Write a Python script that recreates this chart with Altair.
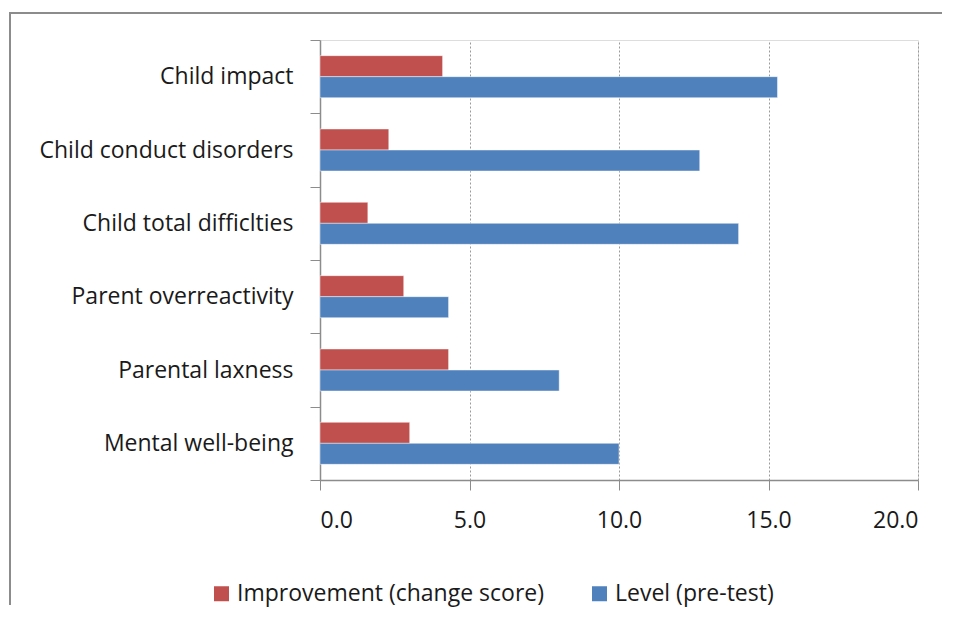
import altair as alt
import pandas as pd

categories = [
    "Child impact",
    "Child conduct disorders",
    "Child total difficlties",
    "Parent overreactivity",
    "Parental laxness",
    "Mental well-being",
]
improvement = [4.1, 2.3, 1.6, 2.8, 4.3, 3.0]
level = [15.3, 12.7, 14.0, 4.3, 8.0, 10.0]
series_names = ["Improvement (change score)", "Level (pre-test)"]
series_colors = ["#C0504D", "#4F81BD"]
x_ticks = [0, 5, 10, 15, 20]

rows = []
for c, a, b in zip(categories, improvement, level):
    rows.append({"category": c, "series": series_names[0], "value": a})
    rows.append({"category": c, "series": series_names[1], "value": b})
df = pd.DataFrame(rows)

FONT = "Open Sans"
FS = 23

bars = alt.Chart(df).mark_bar(
    size=21, stroke="white", strokeOpacity=0.45, strokeWidth=1
).encode(
    y=alt.Y(
        "category:N",
        sort=categories,
        scale=alt.Scale(paddingInner=0, paddingOuter=0),
        axis=alt.Axis(
            title=None,
            tickBand="extent",
            tickSize=10,
            tickColor="#8c8c8c",
            domainColor="#8c8c8c",
            domainWidth=1.5,
            labelFontSize=FS,
            labelFont=FONT,
            labelColor="#1a1a1a",
            labelPadding=17,
            labelLimit=0,
            grid=False,
        ),
    ),
    yOffset=alt.YOffset(
        "series:N",
        sort=series_names,
        scale=alt.Scale(paddingInner=0, paddingOuter=0.745),
    ),
    x=alt.X(
        "value:Q",
        scale=alt.Scale(domain=[0, 20], nice=False),
        axis=alt.Axis(
            title=None,
            values=x_ticks,
            format=".1f",
            tickSize=10,
            tickColor="#8c8c8c",
            domainColor="#8c8c8c",
            domainWidth=1.5,
            grid=True,
            gridColor="#9a9a9a",
            gridDash=[2, 2],
            labelFontSize=FS,
            labelFont=FONT,
            labelColor="#1a1a1a",
            labelPadding=19,
        ),
    ),
    color=alt.Color(
        "series:N",
        sort=series_names,
        scale=alt.Scale(domain=series_names, range=series_colors),
        legend=alt.Legend(
            title=None,
            orient="none",
            direction="horizontal",
            legendX=-110,
            legendY=542,
            symbolType="square",
            symbolSize=225,
            symbolStrokeWidth=0,
            labelFontSize=FS,
            labelFont=FONT,
            labelColor="#1a1a1a",
            labelOffset=4,
            labelLimit=0,
            columnPadding=44,
        ),
    ),
)

frame_data = alt.Data(values=[{}])
frame_left = alt.Chart(frame_data).mark_rule(color="#8c8c8c", strokeWidth=2).encode(
    x=alt.value(-310),
    y=alt.value(-28),
    y2=alt.value(565),
)
frame_top = alt.Chart(frame_data).mark_rule(color="#8c8c8c", strokeWidth=2).encode(
    x=alt.value(-311),
    x2=alt.value(622),
    y=alt.value(-27),
)

chart = alt.layer(frame_left, frame_top, bars).properties(
    width=598,
    height=440,
    autosize=alt.AutoSizeParams(type="none"),
    padding={"left": 312, "top": 32, "right": 32, "bottom": 130},
).configure_view(stroke=None).configure(background="white")

chart.save("out.html", embed_options={"renderer": "svg", "actions": False})
